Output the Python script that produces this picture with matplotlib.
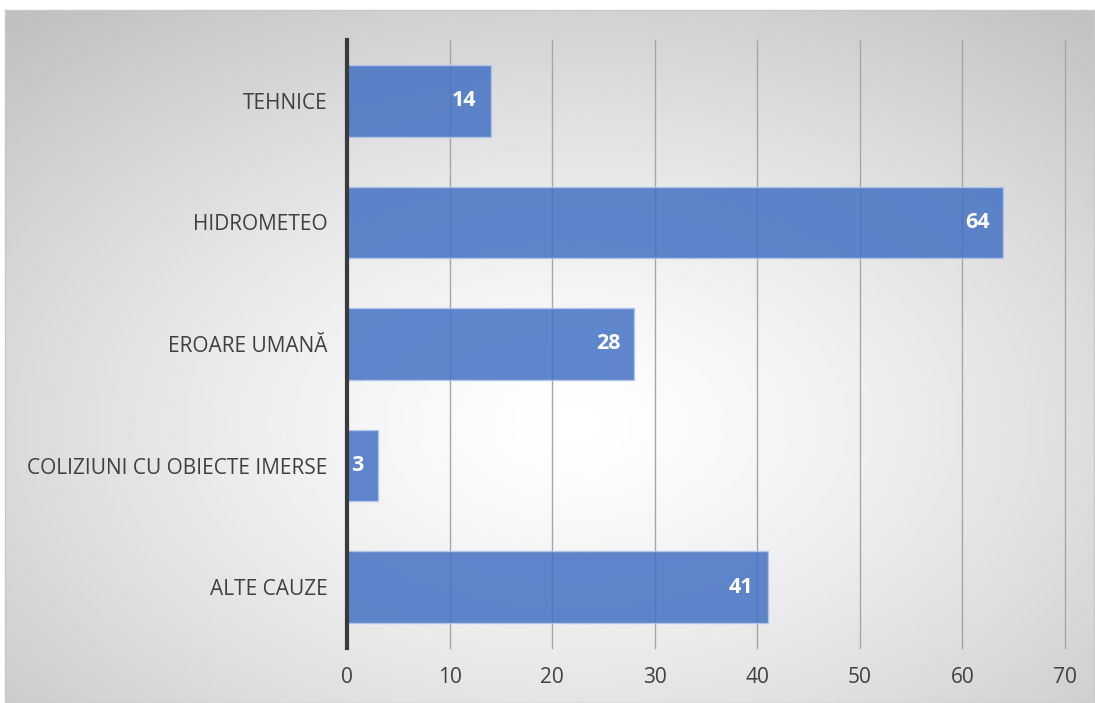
import numpy as np
import matplotlib.pyplot as plt

categories = ['TEHNICE', 'HIDROMETEO', 'EROARE UMANĂ', 'COLIZIUNI CU OBIECTE IMERSE', 'ALTE CAUZE']
values = [14, 64, 28, 3, 41]
xticks = [0, 10, 20, 30, 40, 50, 60, 70]

plt.rcParams['font.family'] = ['Open Sans', 'DejaVu Sans']

fig = plt.figure(figsize=(10.95, 7.03), dpi=100)

# radial gradient background inside the chart border
bg = fig.add_axes([5 / 1095, 0, 1089 / 1095, 693 / 703])
yy, xx = np.mgrid[0:1:300j, 0:1:470j]
d = np.sqrt((xx - 0.52) ** 2 + (yy - 0.4) ** 2)
shade = 1.0 - 0.25 * np.clip(d / 0.78, 0, 1) ** 1.3
bg.imshow(shade, cmap='gray', vmin=0, vmax=1, aspect='auto', extent=[0, 1, 0, 1], origin='lower')
bg.set_xticks([])
bg.set_yticks([])
for s in bg.spines.values():
    s.set_color('#C8C8C8')
    s.set_linewidth(1)

ax = fig.add_axes([347 / 1095, 55 / 703, 718 / 1095, 608 / 703])
ax.patch.set_alpha(0)
y = np.arange(len(categories))
ax.barh(y, values, height=0.59, color='#4472C4', alpha=0.85,
        edgecolor='#B4C7EA', linewidth=1, zorder=3)
for yi, v in zip(y, values):
    ax.annotate(str(v), (v, yi), xytext=(-10, 0), textcoords='offset points',
                ha='right', va='center', color='white',
                fontsize=15.5, fontweight='bold', zorder=4)

ax.set_ylim(len(categories) - 0.5, -0.5)
ax.set_xlim(0, 70)
ax.set_yticks(y)
ax.set_yticklabels(categories, fontsize=15, color='#404040')
ax.set_xticks(xticks)
ax.tick_params(axis='x', length=0, labelsize=15, labelcolor='#404040', pad=14)
ax.tick_params(axis='y', length=0, pad=14)
ax.grid(axis='x', color='#A6A6A6', linewidth=1, zorder=1)
for gl in ax.get_xgridlines():
    gl.set_clip_on(False)
ax.set_axisbelow(True)
for s in ['top', 'right', 'bottom']:
    ax.spines[s].set_visible(False)
ax.spines['left'].set_color('#3A3A3A')
ax.spines['left'].set_linewidth(3)
ax.spines['left'].set_zorder(5)

fig.savefig('out.png', dpi=100)
